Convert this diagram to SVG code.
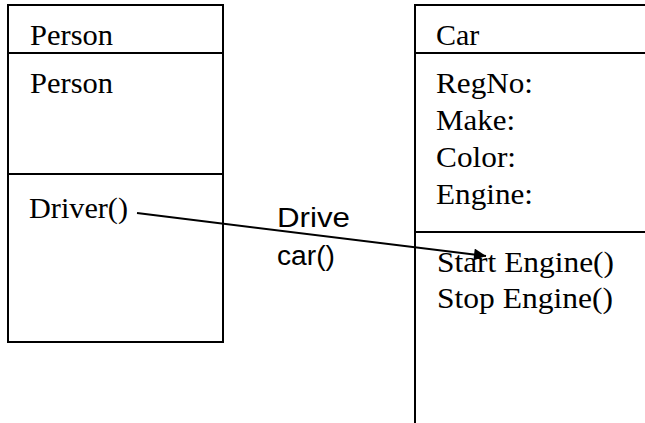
<svg xmlns="http://www.w3.org/2000/svg" width="645" height="423" viewBox="0 0 645 423">
  <style>
    .box { fill: #ffffff; stroke: #000000; stroke-width: 2; }
    .div { stroke: #000000; stroke-width: 2; }
    .t { font-family: "Liberation Serif", "Times New Roman", serif; font-size: 30px; fill: #000000; }
    .s { font-family: "Liberation Sans", Arial, sans-serif; font-size: 27px; fill: #000000; }
    .conn { stroke: #000000; stroke-width: 2; fill: none; }
  </style>
  <defs>
    <marker id="arrow" viewBox="0 0 10 10" refX="10" refY="5" markerWidth="7" markerHeight="6" markerUnits="strokeWidth" orient="auto">
      <path d="M0,0 L10,5 L0,10 Z" fill="#000000"/>
    </marker>
  </defs>

  <rect width="645" height="423" fill="#ffffff"/>

  <!-- Person class -->
  <g id="person">
    <rect class="box" x="8" y="5" width="215" height="337"/>
    <line class="div" x1="8" y1="53" x2="223" y2="53"/>
    <line class="div" x1="8" y1="174" x2="223" y2="174"/>
    <text class="t" x="30" y="45" textLength="83" lengthAdjust="spacingAndGlyphs">Person</text>
    <text class="t" x="30" y="93" textLength="83" lengthAdjust="spacingAndGlyphs">Person</text>
    <text class="t" x="29" y="218" textLength="99" lengthAdjust="spacingAndGlyphs">Driver()</text>
  </g>

  <!-- Car class (extends past the right and bottom edges) -->
  <g id="car">
    <rect class="box" x="415" y="5" width="240" height="430"/>
    <line class="div" x1="415" y1="53" x2="645" y2="53"/>
    <line class="div" x1="415" y1="232" x2="645" y2="232"/>
    <text class="t" x="436" y="45">Car</text>
    <text class="t" x="436" y="93" textLength="97" lengthAdjust="spacingAndGlyphs">RegNo:</text>
    <text class="t" x="436" y="130" textLength="79" lengthAdjust="spacingAndGlyphs">Make:</text>
    <text class="t" x="436" y="167" textLength="80" lengthAdjust="spacingAndGlyphs">Color:</text>
    <text class="t" x="436" y="204" textLength="97" lengthAdjust="spacingAndGlyphs">Engine:</text>
    <text class="t" x="437" y="272" textLength="177" lengthAdjust="spacingAndGlyphs">Start Engine()</text>
    <text class="t" x="437" y="308" textLength="176" lengthAdjust="spacingAndGlyphs">Stop Engine()</text>
  </g>

  <!-- Association -->
  <g id="connectors">
    <line class="conn" x1="137" y1="213" x2="486" y2="256" marker-end="url(#arrow)"/>
    <text class="s" x="277" y="227" textLength="73" lengthAdjust="spacingAndGlyphs">Drive</text>
    <text class="s" x="277" y="265" textLength="58" lengthAdjust="spacingAndGlyphs">car()</text>
  </g>
</svg>
